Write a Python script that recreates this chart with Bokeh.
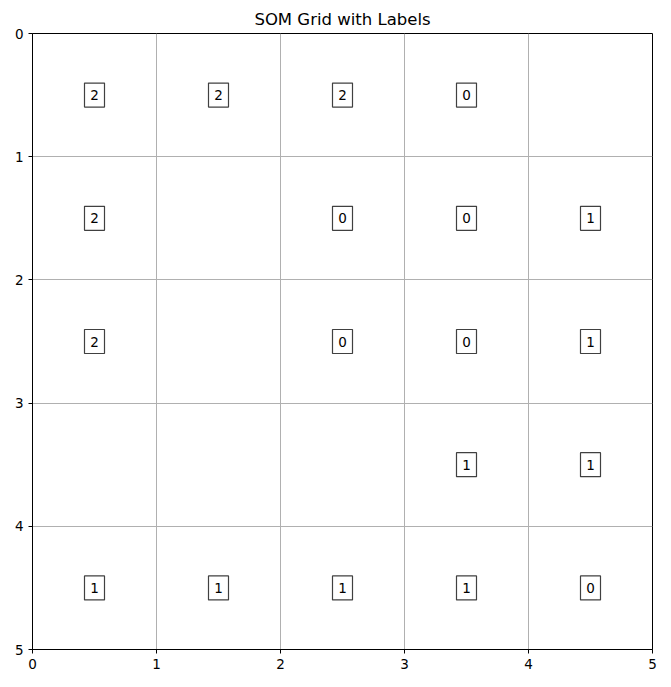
from bokeh.plotting import figure
from bokeh.models import Range1d, FixedTicker, ColumnDataSource
from bokeh.embed import file_html
from bokeh.resources import INLINE
from bokeh.core.properties import value

# Data: cell centers and their labels
xs = [0.5, 1.5, 2.5, 3.5,
      0.5, 2.5, 3.5, 4.5,
      0.5, 2.5, 3.5, 4.5,
      3.5, 4.5,
      0.5, 1.5, 2.5, 3.5, 4.5]
ys = [0.5, 0.5, 0.5, 0.5,
      1.5, 1.5, 1.5, 1.5,
      2.5, 2.5, 2.5, 2.5,
      3.5, 3.5,
      4.5, 4.5, 4.5, 4.5, 4.5]
labels = ["2", "2", "2", "0",
          "2", "0", "0", "1",
          "2", "0", "0", "1",
          "1", "1",
          "1", "1", "1", "1", "0"]
ticks = [0, 1, 2, 3, 4, 5]

src = ColumnDataSource(dict(x=xs, y=ys, t=labels))

p = figure(width=671, height=687, output_backend="svg", toolbar_location=None,
           x_range=Range1d(0, 5), y_range=Range1d(5, 0),
           min_border_left=32, min_border_right=19, min_border_top=33, min_border_bottom=38)

p.title.text = "SOM Grid with Labels"
p.title.align = "center"
p.title.text_font = "DejaVu Sans"
p.title.text_font_size = "16.5px"
p.title.text_font_style = "normal"
p.title.text_color = "black"

p.outline_line_color = "black"
p.outline_line_width = 1
p.outline_line_alpha = 1

for ax in (p.xaxis[0], p.yaxis[0]):
    ax.ticker = FixedTicker(ticks=ticks)
    ax.minor_tick_line_color = None
    ax.major_tick_out = 4
    ax.major_tick_in = 0
    ax.axis_line_color = "black"
    ax.major_tick_line_color = "black"
    ax.major_label_text_font = "DejaVu Sans"
    ax.major_label_text_font_size = "13.5px"
    ax.major_label_text_color = "black"

p.xgrid.ticker = FixedTicker(ticks=ticks)
p.ygrid.ticker = FixedTicker(ticks=ticks)
p.grid.grid_line_color = "#b0b0b0"
p.grid.grid_line_alpha = 1
p.grid.grid_line_width = 1

p.rect(x="x", y="y", width=20, height=24, width_units="screen", height_units="screen",
       source=src, fill_color="white", line_color="#404040", line_width=1.2)
p.text(x="x", y="y", text="t", source=src, text_align="center", text_baseline="middle",
       text_font=value("DejaVu Sans"), text_font_size="13.5px", text_color="black")

open("out.html", "w").write(file_html(p, INLINE))
